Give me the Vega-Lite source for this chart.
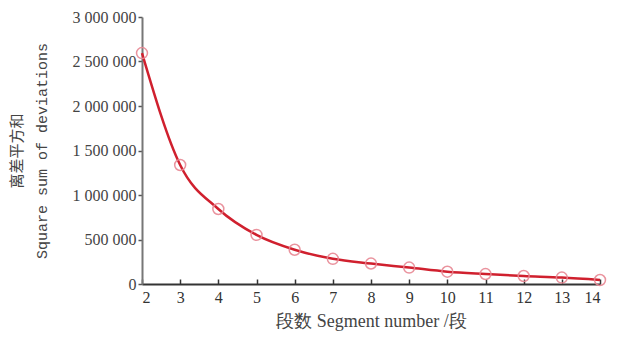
{
  "$schema": "https://vega.github.io/schema/vega-lite/v6.json",
  "width": 458,
  "height": 267,
  "autosize": {"type": "none"},
  "padding": {"left": 142, "top": 17, "right": 22, "bottom": 59},
  "background": "white",
  "config": {
    "view": {"stroke": null},
    "font": "Liberation Serif"
  },
  "data": {
    "values": [
      {"n": 2, "ss": 2595000},
      {"n": 3, "ss": 1337000},
      {"n": 4, "ss": 843000},
      {"n": 5, "ss": 552000},
      {"n": 6, "ss": 385000},
      {"n": 7, "ss": 283000},
      {"n": 8, "ss": 230000},
      {"n": 9, "ss": 185000},
      {"n": 10, "ss": 138000},
      {"n": 11, "ss": 112000},
      {"n": 12, "ss": 90000},
      {"n": 13, "ss": 72000},
      {"n": 14, "ss": 45000}
    ]
  },
  "encoding": {
    "x": {
      "field": "n", "type": "quantitative",
      "scale": {"domain": [2, 14], "nice": false, "zero": false},
      "axis": {
        "values": [2,3,4,5,6,7,8,9,10,11,12,13,14],
        "grid": false, "domainColor": "#333", "domainWidth": 2,
        "tickColor": "#333", "tickSize": -5, "tickWidth": 1.5,
        "labelFontSize": 16, "labelColor": "#333", "labelPadding": 10,
        "labelFont": "Liberation Serif",
        "title": "段数 Segment number /段",
        "titleFontSize": 18, "titleFontWeight": "normal", "titleColor": "#444",
        "titlePadding": 7, "titleFont": "Liberation Serif"
      }
    },
    "y": {
      "field": "ss", "type": "quantitative",
      "scale": {"domain": [0, 3000000], "nice": false},
      "axis": {
        "values": [0, 500000, 1000000, 1500000, 2000000, 2500000, 3000000],
        "labelExpr": "replace(format(datum.value, ','), regexp(',', 'g'), ' ')",
        "grid": false, "domainColor": "#777", "domainWidth": 2,
        "tickColor": "#555", "tickSize": 4, "tickWidth": 1.5,
        "labelFontSize": 16, "labelColor": "#444", "labelPadding": 2,
        "labelFont": "Liberation Serif",
        "title": ["离差平方和", "Square sum of deviations"],
        "titleFontSize": 15, "titleFontWeight": "normal", "titleColor": "#444",
        "titlePadding": 23, "titleFont": "Liberation Mono, Noto Sans CJK SC", "titleLineHeight": 25
      }
    }
  },
  "layer": [
    {"mark": {"type": "line", "interpolate": "monotone", "color": "#d0202e", "strokeWidth": 2.5}},
    {"mark": {"type": "point", "filled": false, "color": "#e88894", "size": 120, "strokeWidth": 1.5, "opacity": 0.9}}
  ]
}
